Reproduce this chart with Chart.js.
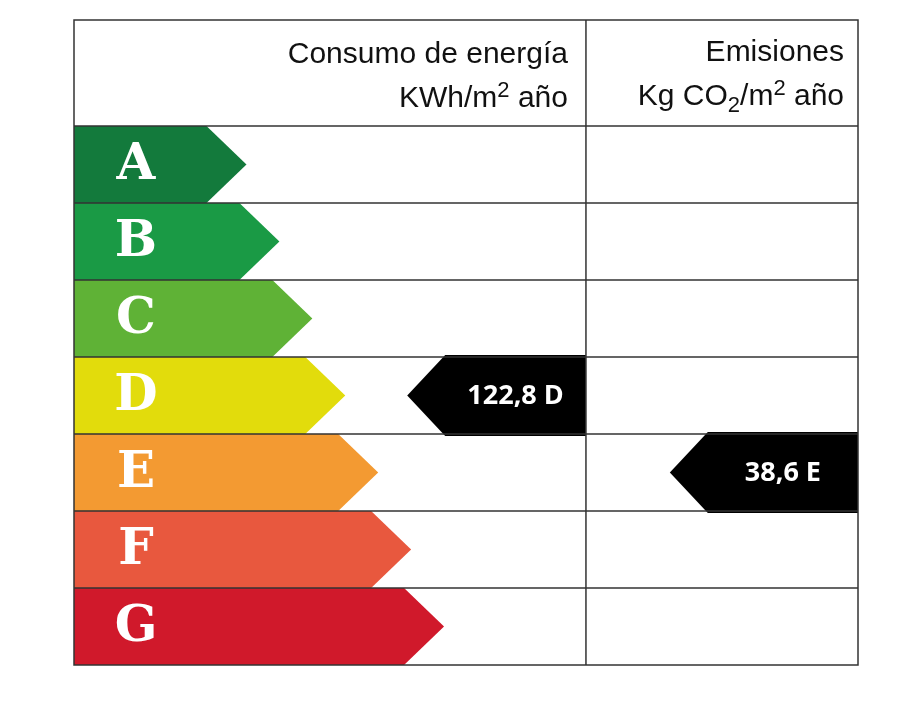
<!DOCTYPE html>
<html>
<head>
<meta charset="utf-8">
<script src="https://cdn.jsdelivr.net/npm/chart.js@4"></script>
<style>
  body { margin: 0; background: #fff; }
  #wrap { width: 905px; height: 705px; }
</style>
</head>
<body>
<div id="wrap"><canvas id="labelChart" width="905" height="705"></canvas></div>
<script>
// Energy rating data
const grades = ['A', 'B', 'C', 'D', 'E', 'F', 'G'];
const barEnds = [22, 26.2, 30.4, 34.6, 38.8, 43, 47.2];
const gradeColours = ['#137a3c', '#1a9a45', '#5fb236', '#e2dc0c', '#f39a32', '#e8583e', '#d0192b'];

// Indicator values: [label, grade, tip position, end position]
const energy = ['122,8', 'D', 42.5, 65.3];
const emissions = ['38,6', 'E', 76, 100];
const columnSplit = 65.3;

function drawRich(ctx, parts, rightX, y) {
  let total = 0;
  parts.forEach((p) => {
    ctx.font = p[1] === 'n' ? '30px "Liberation Sans"' : '22px "Liberation Sans"';
    total += ctx.measureText(p[0]).width;
  });
  let x = rightX - total;
  parts.forEach((p) => {
    ctx.font = p[1] === 'n' ? '30px "Liberation Sans"' : '22px "Liberation Sans"';
    const dy = p[1] === 'sup' ? -10 : p[1] === 'sub' ? 7 : 0;
    ctx.fillText(p[0], x, y + dy);
    x += ctx.measureText(p[0]).width;
  });
}

const labelPlugin = {
  id: 'labelPlugin',
  afterDatasetsDraw(chart) {
    const ctx = chart.ctx;
    const xs = chart.scales.x;
    const area = chart.chartArea;
    const meta = chart.getDatasetMeta(0);
    const rowH = meta.data.length > 1 ? meta.data[1].y - meta.data[0].y : 77;
    ctx.save();

    // grade arrows
    meta.data.forEach((bar, i) => {
      const top = bar.y - rowH / 2;
      const bot = bar.y + rowH / 2;
      const tip = bar.x;
      ctx.fillStyle = gradeColours[i];
      ctx.beginPath();
      ctx.moveTo(area.left, top);
      ctx.lineTo(tip - 40, top);
      ctx.lineTo(tip, bar.y);
      ctx.lineTo(tip - 40, bot);
      ctx.lineTo(area.left, bot);
      ctx.closePath();
      ctx.fill();
      ctx.fillStyle = '#fff';
      ctx.font = 'bold 50px "DejaVu Serif"';
      ctx.textAlign = 'center';
      ctx.textBaseline = 'middle';
      ctx.fillText(grades[i], area.left + 62, bar.y + 2);
    });

    // indicators
    [energy, emissions].forEach((ind) => {
      const idx = grades.indexOf(ind[1]);
      const y = meta.data[idx].y;
      const tip = xs.getPixelForValue(ind[2]);
      const end = xs.getPixelForValue(ind[3]);
      const h = rowH / 2 + 2;
      ctx.fillStyle = '#000';
      ctx.beginPath();
      ctx.moveTo(tip, y);
      ctx.lineTo(tip + 38, y - h);
      ctx.lineTo(end, y - h);
      ctx.lineTo(end, y + h);
      ctx.lineTo(tip + 38, y + h);
      ctx.closePath();
      ctx.fill();
      ctx.fillStyle = '#fff';
      ctx.font = 'bold 27px "Open Sans"';
      ctx.textAlign = 'center';
      ctx.textBaseline = 'middle';
      ctx.fillText(ind[0] + ' ' + ind[1], (tip + 38 + end) / 2, y + 1);
    });

    // table lines
    const split = xs.getPixelForValue(columnSplit);
    const headTop = 20;
    ctx.strokeStyle = '#333';
    ctx.lineWidth = 1.5;
    ctx.strokeRect(area.left, headTop, area.right - area.left, area.bottom - headTop);
    ctx.beginPath();
    ctx.moveTo(split, headTop);
    ctx.lineTo(split, area.bottom);
    for (let i = 0; i < meta.data.length; i++) {
      const yy = meta.data[i].y - rowH / 2;
      ctx.moveTo(area.left, yy);
      ctx.lineTo(area.right, yy);
    }
    ctx.stroke();

    // header
    ctx.fillStyle = '#111';
    ctx.textAlign = 'left';
    ctx.textBaseline = 'alphabetic';
    drawRich(ctx, [['Consumo de energía', 'n']], split - 18, 63);
    drawRich(ctx, [['KWh/m', 'n'], ['2', 'sup'], [' año', 'n']], split - 18, 107);
    drawRich(ctx, [['Emisiones', 'n']], area.right - 14, 61);
    drawRich(ctx, [['Kg CO', 'n'], ['2', 'sub'], ['/m', 'n'], ['2', 'sup'], [' año', 'n']], area.right - 14, 105);
    ctx.restore();
  },
};

new Chart(document.getElementById('labelChart'), {
  type: 'bar',
  data: {
    labels: grades,
    datasets: [
      {
        data: barEnds,
        backgroundColor: 'rgba(0,0,0,0)',
        barPercentage: 1,
        categoryPercentage: 1,
      },
    ],
  },
  options: {
    indexAxis: 'y',
    responsive: false,
    animation: false,
    devicePixelRatio: 1,
    layout: { padding: { left: 74, right: 47, top: 126, bottom: 40 } },
    plugins: { legend: { display: false }, tooltip: { enabled: false } },
    scales: {
      x: { min: 0, max: 100, display: false },
      y: { display: false, grid: { display: false } },
    },
  },
  plugins: [labelPlugin],
});
</script>
</body>
</html>
